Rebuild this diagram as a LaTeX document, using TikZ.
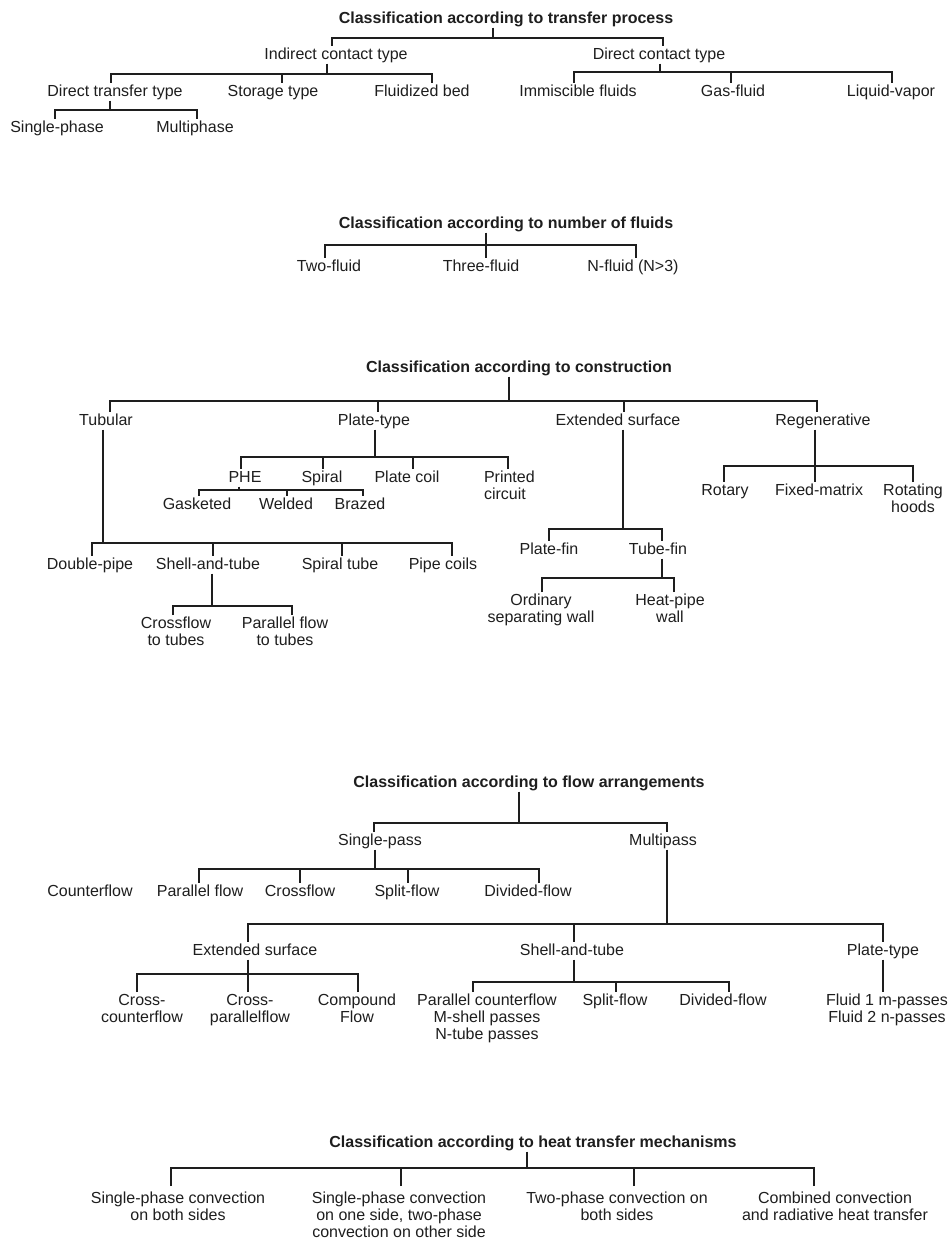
\documentclass[tikz,border=0pt]{standalone}
\usepackage{fontspec}
\setmainfont{Liberation Sans}
\definecolor{ink}{RGB}{30,30,30}
\begin{document}
\begin{tikzpicture}[x=0.75pt,y=-0.75pt,
  every node/.style={font=\fontsize{12pt}{12.75pt}\selectfont, text=ink},
  lbl/.style={anchor=base, yshift=-4.3pt, text height=9pt, text depth=1.5pt, inner sep=0pt, outer sep=1.5pt},
  ttl/.style={lbl, font=\fontsize{12pt}{12.75pt}\selectfont\bfseries},
  ml/.style={anchor=north, align=center, inner sep=0pt, outer sep=1.5pt},
  conn/.style={draw=ink, line width=1.1pt},
  px/.style={xshift=#1*0.75pt},
]
\useasboundingbox (0,0) rectangle (952,1249);
\fill[white] (0,0) rectangle (952,1249);

% ---------------- Section 1 ----------------
\node[ttl] (t1) at (506,18) {Classification according to transfer process};
\node[lbl] (ict) at (336,54) {Indirect contact type};
\node[lbl] (dct) at (659,54) {Direct contact type};
\coordinate (b1) at (493,38);
\draw[conn] (t1.south -| b1) -- (b1);
\draw[conn] ([px=-4]ict.north) |- (b1);
\draw[conn] ([px=4]dct.north) |- (b1);

\node[lbl] (dtt) at (115,91) {Direct transfer type};
\node[lbl] (sto) at (273,91) {Storage type};
\node[lbl] (flb) at (422,91) {Fluidized bed};
\coordinate (b2) at (327,74);
\draw[conn] (ict.south -| b2) -- (b2);
\draw[conn] ([px=-4]dtt.north) |- (b2);
\draw[conn] ([px=9]sto.north) |- (b2);
\draw[conn] ([px=10]flb.north) |- (b2);

\node[lbl] (sph) at (57,127) {Single-phase};
\node[lbl] (mph) at (195,127) {Multiphase};
\coordinate (b3) at (110,110);
\draw[conn] (dtt.south -| b3) -- (b3);
\draw[conn] ([px=-2]sph.north) |- (b3);
\draw[conn] ([px=2]mph.north) |- (b3);

\node[lbl] (imm) at (578,91) {Immiscible fluids};
\node[lbl] (gas) at (733,91) {Gas-fluid};
\node[lbl] (liq) at (891,91) {Liquid-vapor};
\coordinate (b4) at (660,72);
\draw[conn] (dct.south -| b4) -- (b4);
\draw[conn] ([px=-4]imm.north) |- (b4);
\draw[conn] ([px=-2]gas.north) |- (b4);
\draw[conn] ([px=1]liq.north) |- (b4);

% ---------------- Section 2 ----------------
\node[ttl] (t2) at (506,223) {Classification according to number of fluids};
\node[lbl] (two) at (329,266) {Two-fluid};
\node[lbl] (three) at (481,266) {Three-fluid};
\node[lbl] (nfl) at (633,266) {N-fluid (N>3)};
\coordinate (b5) at (486,245);
\draw[conn] (t2.south -| b5) -- (b5);
\draw[conn] ([px=-4]two.north) |- (b5);
\draw[conn] ([px=5]three.north) |- (b5);
\draw[conn] ([px=3]nfl.north) |- (b5);

% ---------------- Section 3 ----------------
\node[ttl] (t3) at (519,367) {Classification according to construction};
\node[lbl] (tub) at (106,420) {Tubular};
\node[lbl] (pty) at (374,420) {Plate-type};
\node[lbl] (ext) at (618,420) {Extended surface};
\node[lbl] (reg) at (823,420) {Regenerative};
\coordinate (b6) at (509,401);
\draw[conn] (t3.south -| b6) -- (b6);
\draw[conn] ([px=4]tub.north) |- (b6);
\draw[conn] ([px=4]pty.north) |- (b6);
\draw[conn] ([px=6]ext.north) |- (b6);
\draw[conn] ([px=-6]reg.north) |- (b6);

% Tubular
\node[lbl] (dpp) at (90,564) {Double-pipe};
\node[lbl] (sat) at (208,564) {Shell-and-tube};
\node[lbl] (spt) at (340,564) {Spiral tube};
\node[lbl] (pco) at (443,564) {Pipe coils};
\coordinate (b7) at (103,543);
\draw[conn] (tub.south -| b7) -- (b7);
\draw[conn] ([px=2]dpp.north) |- (b7);
\draw[conn] ([px=5]sat.north) |- (b7);
\draw[conn] ([px=2]spt.north) |- (b7);
\draw[conn] ([px=9]pco.north) |- (b7);

\node[ml] (cft) at (176,615) {Crossflow\\to tubes};
\node[ml] (pft) at (285,615) {Parallel flow\\to tubes};
\coordinate (b8) at (212,606);
\draw[conn] (sat.south -| b8) -- (b8);
\draw[conn] ([px=-3]cft.north) |- (b8);
\draw[conn] ([px=7]pft.north) |- (b8);

% Plate-type
\node[lbl] (phe) at (245,477) {PHE};
\node[lbl] (spi) at (322,477) {Spiral};
\node[lbl] (plc) at (407,477) {Plate coil};
\node[ml, anchor=north west, align=left] (prc) at (482,469) {Printed\\circuit};
\coordinate (b9) at (375,457);
\draw[conn] (pty.south -| b9) -- (b9);
\draw[conn] ([px=-4]phe.north) |- (b9);
\draw[conn] ([px=1]spi.north) |- (b9);
\draw[conn] ([px=6]plc.north) |- (b9);
\draw[conn] ([px=26]prc.north west) |- (b9);

\node[lbl] (gsk) at (197,504) {Gasketed};
\node[lbl] (wld) at (286,504) {Welded};
\node[lbl] (brz) at (360,504) {Brazed};
\coordinate (b10) at (239,490);
\draw[conn] (phe.south -| b10) -- (b10);
\draw[conn] ([px=2]gsk.north) |- (b10);
\draw[conn] ([px=1]wld.north) |- (b10);
\draw[conn] ([px=3]brz.north) |- (b10);

% Extended surface
\node[lbl] (plf) at (549,549) {Plate-fin};
\node[lbl] (tbf) at (658,549) {Tube-fin};
\coordinate (b11) at (623,529);
\draw[conn] (ext.south -| b11) -- (b11);
\draw[conn] (plf.north) |- (b11);
\draw[conn] ([px=4]tbf.north) |- (b11);

\node[ml] (ord) at (541,592) {Ordinary\\separating wall};
\node[ml] (hpw) at (670,592) {Heat-pipe\\wall};
\coordinate (b12) at (662,578);
\draw[conn] (tbf.south -| b12) -- (b12);
\draw[conn] ([px=1]ord.north) |- (b12);
\draw[conn] ([px=4]hpw.north) |- (b12);

% Regenerative
\node[lbl] (rot) at (725,490) {Rotary};
\node[lbl] (fxm) at (819,490) {Fixed-matrix};
\node[ml] (rth) at (913,482) {Rotating\\hoods};
\coordinate (b13) at (815,466);
\draw[conn] (reg.south -| b13) -- (b13);
\draw[conn] ([px=-1]rot.north) |- (b13);
\draw[conn] ([px=-4]fxm.north) |- (b13);
\draw[conn] (rth.north) |- (b13);

% ---------------- Section 4 ----------------
\node[ttl] (t4) at (529,782) {Classification according to flow arrangements};
\node[lbl] (spa) at (380,840) {Single-pass};
\node[lbl] (mpa) at (663,840) {Multipass};
\coordinate (b14) at (519,823);
\draw[conn] (t4.south -| b14) -- (b14);
\draw[conn] ([px=-6]spa.north) |- (b14);
\draw[conn] ([px=4]mpa.north) |- (b14);

\node[lbl] (cfl) at (90,891) {Counterflow};
\node[lbl] (pfl) at (200,891) {Parallel flow};
\node[lbl] (crf) at (300,891) {Crossflow};
\node[lbl] (spf) at (407,891) {Split-flow};
\node[lbl] (dvf) at (528,891) {Divided-flow};
\coordinate (b15) at (375,869);
\draw[conn] (spa.south -| b15) -- (b15);
\draw[conn] ([px=-1]pfl.north) |- (b15);
\draw[conn] (crf.north) |- (b15);
\draw[conn] ([px=1]spf.north) |- (b15);
\draw[conn] ([px=11]dvf.north) |- (b15);

\node[lbl] (exs) at (255,950) {Extended surface};
\node[lbl] (stt) at (572,950) {Shell-and-tube};
\node[lbl] (plt) at (883,950) {Plate-type};
\coordinate (b16) at (667,924);
\draw[conn] (mpa.south -| b16) -- (b16);
\draw[conn] ([px=-7]exs.north) |- (b16);
\draw[conn] ([px=2]stt.north) |- (b16);
\draw[conn] (plt.north) |- (b16);

\node[ml] (ccf) at (142,992) {Cross-\\counterflow};
\node[ml] (cpf) at (250,992) {Cross-\\parallelflow};
\node[ml] (cmf) at (357,992) {Compound\\Flow};
\coordinate (b17) at (248,974);
\draw[conn] (exs.south -| b17) -- (b17);
\draw[conn] ([px=-5]ccf.north) |- (b17);
\draw[conn] ([px=-2]cpf.north) |- (b17);
\draw[conn] ([px=1]cmf.north) |- (b17);

\node[ml] (pcf) at (487,992) {Parallel counterflow\\M-shell passes\\N-tube passes};
\node[lbl] (spl) at (615,1000) {Split-flow};
\node[lbl] (dvt) at (723,1000) {Divided-flow};
\coordinate (b18) at (574,982);
\draw[conn] (stt.south -| b18) -- (b18);
\draw[conn] ([px=-14]pcf.north) |- (b18);
\draw[conn] ([px=1]spl.north) |- (b18);
\draw[conn] ([px=6]dvt.north) |- (b18);

\node[ml] (flu) at (887,992) {Fluid 1 m-passes\\Fluid 2 n-passes};
\draw[conn] (plt.south) -- (plt.south |- flu.north);

% ---------------- Section 5 ----------------
\node[ttl] (t5) at (533,1142) {Classification according to heat transfer mechanisms};
\node[ml] (sc1) at (178,1190) {Single-phase convection\\on both sides};
\node[ml] (sc2) at (399,1190) {Single-phase convection\\on one side, two-phase\\convection on other side};
\node[ml] (sc3) at (617,1190) {Two-phase convection on\\both sides};
\node[ml] (sc4) at (835,1190) {Combined convection\\and radiative heat transfer};
\coordinate (b19) at (527,1168);
\draw[conn] (t5.south -| b19) -- (b19);
\draw[conn] ([px=-7,yshift=3pt]sc1.north) |- (b19);
\draw[conn] ([px=2,yshift=3pt]sc2.north) |- (b19);
\draw[conn] ([px=17,yshift=3pt]sc3.north) |- (b19);
\draw[conn] ([px=-21,yshift=3pt]sc4.north) |- (b19);
\end{tikzpicture}
\end{document}
